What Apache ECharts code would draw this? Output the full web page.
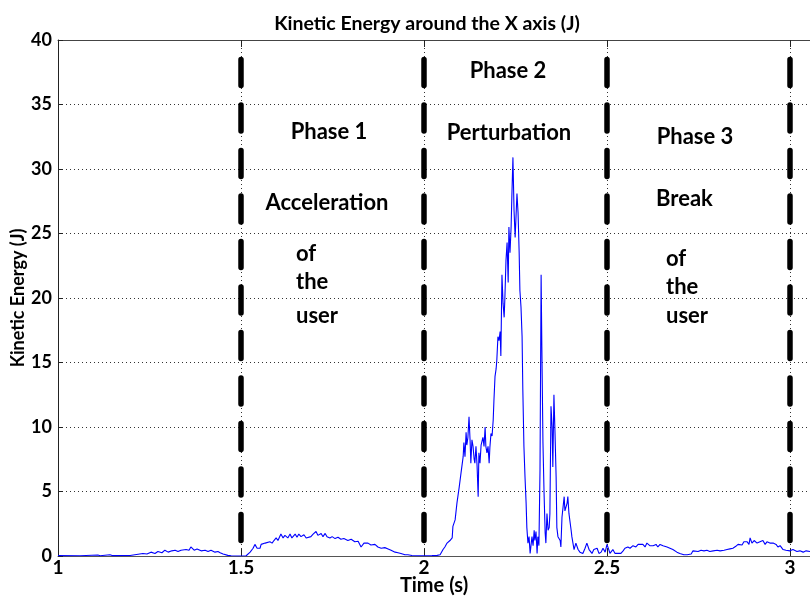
<!DOCTYPE html>
<html>
<head>
<meta charset="utf-8">
<script src="https://cdn.jsdelivr.net/npm/echarts@6/dist/echarts.min.js"></script>
<style>
html,body{margin:0;padding:0;background:#fff;}
#chart{width:810px;height:598px;}
</style>
</head>
<body>
<div id="chart"></div>
<script>
// ---- data ----
var chartTitle = 'Kinetic Energy around the X axis (J)';
var xName = 'Time (s)';
var yName = 'Kinetic Energy (J)';
var xTicks = [1, 1.5, 2, 2.5, 3];
var yTicks = [0, 5, 10, 15, 20, 25, 30, 35, 40];
var phaseBounds = [1.5, 2, 2.5, 3];

var times = [
1.000,1.060,1.109,1.115,1.142,1.148,1.197,1.232,1.243,1.254,1.265,1.273,1.284,1.292,1.301,1.311,1.320,1.328,1.336,1.350,
1.358,1.363,1.372,1.380,1.391,1.402,1.410,1.418,1.429,1.437,1.443,1.451,1.456,1.464,1.473,1.492,1.514,1.519,1.525,1.530,
1.533,1.538,1.544,1.546,1.552,1.555,1.560,1.566,1.571,1.579,1.585,1.590,1.596,1.601,1.609,1.615,1.620,1.628,1.634,1.639,
1.648,1.653,1.658,1.664,1.672,1.678,1.683,1.691,1.697,1.705,1.710,1.719,1.724,1.730,1.735,1.743,1.749,1.757,1.765,1.773,
1.781,1.792,1.801,1.811,1.820,1.828,1.836,1.847,1.855,1.866,1.874,1.883,1.893,1.902,1.910,1.921,1.929,1.937,1.948,1.956,
1.967,1.984,2.003,2.022,2.036,2.044,2.052,2.057,2.063,2.071,2.077,2.079,2.085,2.090,2.096,2.101,2.107,2.109,2.112,2.115,
2.117,2.120,2.123,2.126,2.128,2.131,2.134,2.137,2.139,2.142,2.145,2.148,2.150,2.153,2.156,2.161,2.164,2.167,2.169,2.172,
2.175,2.178,2.180,2.183,2.186,2.189,2.191,2.194,2.197,2.199,2.202,2.205,2.208,2.210,2.213,2.216,2.219,2.221,2.224,2.227,
2.230,2.232,2.235,2.238,2.240,2.243,2.246,2.249,2.251,2.254,2.257,2.260,2.262,2.265,2.268,2.270,2.273,2.276,2.279,2.281,
2.284,2.287,2.290,2.295,2.298,2.301,2.303,2.306,2.309,2.311,2.314,2.317,2.320,2.322,2.325,2.328,2.331,2.333,2.336,2.339,
2.342,2.344,2.347,2.350,2.352,2.355,2.358,2.361,2.363,2.366,2.372,2.374,2.377,2.383,2.385,2.391,2.393,2.396,2.402,2.404,
2.410,2.415,2.421,2.426,2.434,2.440,2.445,2.451,2.454,2.459,2.464,2.473,2.478,2.484,2.489,2.495,2.500,2.506,2.508,2.516,
2.522,2.527,2.538,2.544,2.549,2.557,2.563,2.571,2.579,2.585,2.590,2.598,2.604,2.609,2.617,2.626,2.634,2.639,2.645,2.653,
2.664,2.672,2.680,2.691,2.699,2.710,2.719,2.730,2.735,2.740,2.749,2.757,2.765,2.773,2.781,2.790,2.801,2.809,2.820,2.828,
2.836,2.844,2.852,2.858,2.863,2.869,2.874,2.883,2.888,2.891,2.896,2.902,2.910,2.918,2.926,2.932,2.937,2.945,2.954,2.962,
2.967,2.973,2.981,2.989,3.000,3.008,3.019,3.027,3.036,3.044,3.055
];
var energy = [
0.03,0.02,0.08,0.02,0.1,0.03,0.04,0.2,0.15,0.3,0.2,0.35,0.25,0.45,0.3,0.4,0.45,0.35,0.45,0.5,
0.45,0.7,0.45,0.55,0.4,0.45,0.35,0.45,0.3,0.35,0.25,0.15,0.1,0.05,0.02,0.0,0.02,0.1,0.3,0.2,
0.6,0.9,0.6,0.75,0.6,0.9,0.75,1.0,0.85,1.1,1.0,1.2,1.4,1.2,1.7,1.4,1.6,1.4,1.7,1.4,
1.7,1.45,1.7,1.5,1.65,1.4,1.55,1.5,1.7,1.9,1.6,1.75,1.5,1.75,1.5,1.4,1.5,1.35,1.45,1.3,
1.35,1.2,1.3,1.1,1.15,0.7,1.0,1.0,0.85,0.9,0.7,0.6,0.65,0.55,0.45,0.3,0.25,0.2,0.1,0.1,
0.04,0.02,0.02,0.03,0.05,0.1,0.5,0.7,1.0,1.2,1.4,2.3,2.8,4.1,5.3,6.4,7.7,8.8,7.7,9.6,
8.6,9.2,10.8,8.9,7.2,9.0,8.5,7.5,7.2,8.5,7.0,4.6,8.0,7.2,8.6,9.2,8.5,10.0,8.5,8.0,
8.5,7.2,8.4,9.5,9.3,10.5,12.0,13.9,14.5,15.2,17.0,16.7,17.4,15.5,21.8,19.6,18.5,20.0,22.9,24.3,
21.2,25.5,23.5,25.5,27.8,30.9,26.8,24.7,26.0,28.1,26.6,23.5,20.6,19.3,17.0,12.9,8.5,6.1,4.1,2.2,
1.0,1.5,0.2,1.5,0.8,2.0,1.2,1.9,0.2,1.5,0.8,6.7,21.8,16.2,8.8,4.9,1.8,1.0,3.3,2.0,
2.2,3.3,11.6,10.0,6.9,12.5,9.5,6.1,2.2,1.5,1.2,0.7,3.0,4.6,3.5,4.1,4.6,3.3,2.0,1.5,
0.5,1.0,0.5,0.3,0.2,0.6,1.0,0.5,0.6,0.2,0.5,0.6,0.2,0.3,0.6,0.3,0.9,0.4,0.2,0.5,
0.2,0.1,0.2,0.4,0.6,0.7,0.6,0.8,0.7,0.9,0.8,0.9,0.7,1.0,0.8,0.8,0.9,0.7,0.9,0.8,
0.7,0.6,0.5,0.3,0.2,0.1,0.1,0.15,0.4,0.5,0.35,0.45,0.4,0.45,0.35,0.4,0.45,0.4,0.45,0.5,
0.55,0.6,0.75,0.9,1.0,0.85,1.1,1.1,0.9,1.4,1.0,1.2,1.0,1.1,1.2,0.9,1.1,1.0,1.0,0.9,
0.7,0.8,0.5,0.45,0.4,0.5,0.35,0.4,0.3,0.4,0.35
];

var phaseTexts = [
  {text: 'Phase 1', x: 329, y: 132, align: 'center'},
  {text: 'Acceleration', x: 327, y: 203, align: 'center'},
  {text: 'of', x: 296, y: 254, align: 'left'},
  {text: 'the', x: 296, y: 282, align: 'left'},
  {text: 'user', x: 296, y: 316, align: 'left'},
  {text: 'Phase 2', x: 508, y: 71, align: 'center'},
  {text: 'Perturbation', x: 509, y: 133, align: 'center'},
  {text: 'Phase 3', x: 695, y: 137, align: 'center'},
  {text: 'Break', x: 656, y: 199, align: 'left'},
  {text: 'of', x: 666, y: 259, align: 'left'},
  {text: 'the', x: 666, y: 287, align: 'left'},
  {text: 'user', x: 666, y: 316, align: 'left'}
];

// ---- chart ----
var FONT = 'Lato, "Open Sans", sans-serif';
var chart = echarts.init(document.getElementById('chart'), null, {renderer: 'canvas'});
var signal = times.map(function (t, i) { return [t, energy[i]]; });
var xMin = xTicks[0], xMax = 1 + (810 - 58) / 366;

var series = [{
  type: 'line',
  data: signal,
  showSymbol: false,
  symbol: 'none',
  animation: false,
  lineStyle: {color: '#0000ff', width: 1.1},
  z: 3
}];
phaseBounds.forEach(function (b) {
  series.push({
    type: 'line',
    data: [[b, yTicks[yTicks.length - 1]], [b, yTicks[0]]],
    showSymbol: false,
    symbol: 'none',
    animation: false,
    silent: true,
    lineStyle: {color: '#000', width: 5.5, type: [26, 19.5], cap: 'round', dashOffset: 26},
    z: 5
  });
});

var gridDot = {show: true, lineStyle: {color: '#333', width: 1, type: [1, 3]}};

chart.setOption({
  animation: false,
  backgroundColor: '#fff',
  title: {
    text: chartTitle,
    left: 422, top: 9, textAlign: 'center',
    textStyle: {fontFamily: FONT, fontWeight: 'bold', fontSize: 19.5, color: '#000'}
  },
  grid: {left: 58, right: 0, top: 40, bottom: 42, containLabel: false, outerBoundsMode: 'none'},
  xAxis: [{
    type: 'value', position: 'bottom', min: xMin, max: xMax, interval: 0.5,
    name: xName, nameLocation: 'middle', nameGap: 30, nameMoveOverlap: false,
    nameTextStyle: {fontFamily: FONT, fontWeight: 'bold', fontSize: 20, color: '#000', verticalAlign: 'middle'},
    axisLine: {show: true, onZero: false, lineStyle: {color: '#555', width: 1}},
    axisTick: {show: true, inside: true, length: 7, lineStyle: {color: '#222'}},
    axisLabel: {
      fontFamily: FONT, fontWeight: 'bold', fontSize: 19, color: '#000', margin: 2,
      formatter: function (v) { return xTicks.indexOf(Math.round(v * 1000) / 1000) >= 0 ? String(v) : ''; }
    },
    splitLine: gridDot
  }, {
    type: 'value', position: 'top', min: xMin, max: xMax, interval: 0.5,
    axisLine: {show: true, onZero: false, lineStyle: {color: '#444', width: 1}},
    axisTick: {show: true, inside: true, length: 7, lineStyle: {color: '#222'}},
    axisLabel: {show: false},
    splitLine: {show: false}
  }],
  yAxis: {
    type: 'value', min: 0, max: 40, interval: 5,
    name: yName, nameLocation: 'middle', nameGap: 40, nameRotate: 90, nameMoveOverlap: false,
    nameTextStyle: {fontFamily: FONT, fontWeight: 'bold', fontSize: 18, color: '#000', verticalAlign: 'middle'},
    axisLine: {show: true, lineStyle: {color: '#222', width: 1}},
    axisTick: {show: true, inside: true, length: 5, lineStyle: {color: '#222'}},
    axisLabel: {fontFamily: FONT, fontWeight: 'bold', fontSize: 18, color: '#000', margin: 6},
    splitLine: gridDot
  },
  series: series,
  graphic: phaseTexts.map(function (p) {
    return {
      type: 'text', x: p.x, y: p.y, z: 10,
      style: {
        text: p.text, x: 0, y: 0,
        textAlign: p.align, textVerticalAlign: 'middle',
        font: 'bold 22px ' + FONT, fill: '#000'
      }
    };
  })
});
</script>
</body>
</html>
